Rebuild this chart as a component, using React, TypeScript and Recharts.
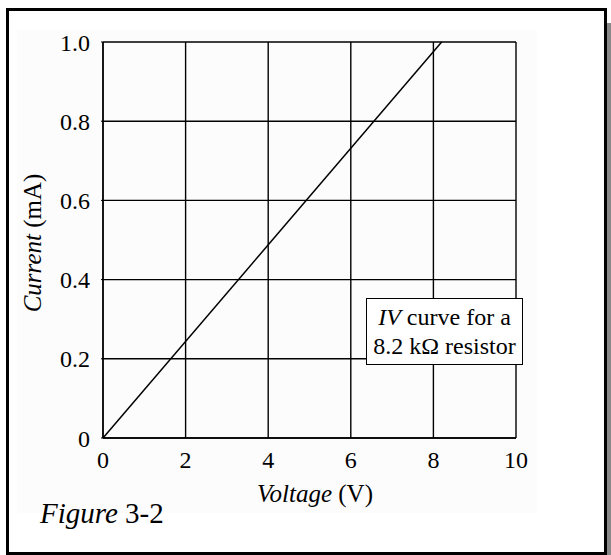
import { LineChart, Line, XAxis, YAxis, CartesianGrid, Label } from 'recharts';

const voltage = [0, 8.2];
const current = [0, 1.0];
const xTicks = [0, 2, 4, 6, 8, 10];
const yTicks = [0, 0.2, 0.4, 0.6, 0.8, 1.0];
const noteLines = ['curve for a', '8.2 kΩ resistor'];

const FONT = '"Liberation Serif", "DejaVu Serif", serif';

const data = voltage.map((v, i) => ({ v, i: current[i] }));

export default function App() {
  return (
    <div style={{ position: 'absolute', left: 0, top: 0, width: 611, height: 555, background: '#fff', overflow: 'hidden' }}>
      <div style={{ position: 'absolute', left: 17, top: 30, width: 520, height: 483, background: '#fcfcfc' }} />
      <div
        style={{
          position: 'absolute', left: 6, top: 8, width: 595, height: 541,
          border: '3px solid #000', boxShadow: '5px 15px 0 #888',
        }}
      />
      <div style={{ position: 'absolute', left: 0, top: 0 }}>
        <LineChart width={611} height={555} data={data} margin={{ top: 42, right: 95, bottom: 57, left: 23 }}>
          <CartesianGrid stroke="#000" strokeWidth={1.4} />
          <XAxis
            dataKey="v"
            type="number"
            domain={[0, 10]}
            ticks={xTicks}
            height={60}
            fontSize={24}
            fontFamily={FONT}
            axisLine={{ stroke: '#000', strokeWidth: 1.4 }}
            tickLine={false}
            tickSize={2}
            tickMargin={11}
            tick={{ fill: '#000', fontSize: 24, fontFamily: FONT }}
          >
            <Label
              content={() => (
                <text x={315} y={502} textAnchor="middle" fontFamily={FONT} fontSize={25} fill="#000">
                  <tspan fontStyle="italic">Voltage</tspan>
                  <tspan> (V)</tspan>
                </text>
              )}
            />
          </XAxis>
          <YAxis
            type="number"
            domain={[0, 1]}
            ticks={yTicks}
            width={80}
            fontSize={24}
            fontFamily={FONT}
            axisLine={{ stroke: '#000', strokeWidth: 1.4 }}
            tickLine={{ stroke: '#000' }}
            tickSize={2}
            tickMargin={11}
            tickFormatter={(t: number) => (t === 0 ? '0' : t.toFixed(1))}
            tick={{ fill: '#000', fontSize: 24, fontFamily: FONT }}
          >
            <Label
              content={() => (
                <text
                  x={41}
                  y={243}
                  transform="rotate(-90 41 243)"
                  textAnchor="middle"
                  fontFamily={FONT}
                  fontSize={25}
                  fill="#000"
                >
                  <tspan fontStyle="italic">Current</tspan>
                  <tspan> (mA)</tspan>
                </text>
              )}
            />
          </YAxis>
          <Line
            dataKey="i"
            type="linear"
            stroke="#000"
            strokeWidth={1.5}
            dot={false}
            isAnimationActive={false}
          />
        </LineChart>
      </div>
      <div
        style={{
          position: 'absolute', left: 366, top: 298, width: 155, height: 65,
          border: '1.5px solid #000', background: '#fff',
          fontFamily: FONT, fontSize: 24, lineHeight: '29px', textAlign: 'center',
          display: 'flex', flexDirection: 'column', justifyContent: 'center',
        }}
      >
        <div><i>IV</i> {noteLines[0]}</div>
        <div>{noteLines[1]}</div>
      </div>
      <div style={{ position: 'absolute', left: 40, top: 497, fontFamily: FONT, fontSize: 29, lineHeight: '32px' }}>
        <i>Figure</i> 3-2
      </div>
    </div>
  );
}
